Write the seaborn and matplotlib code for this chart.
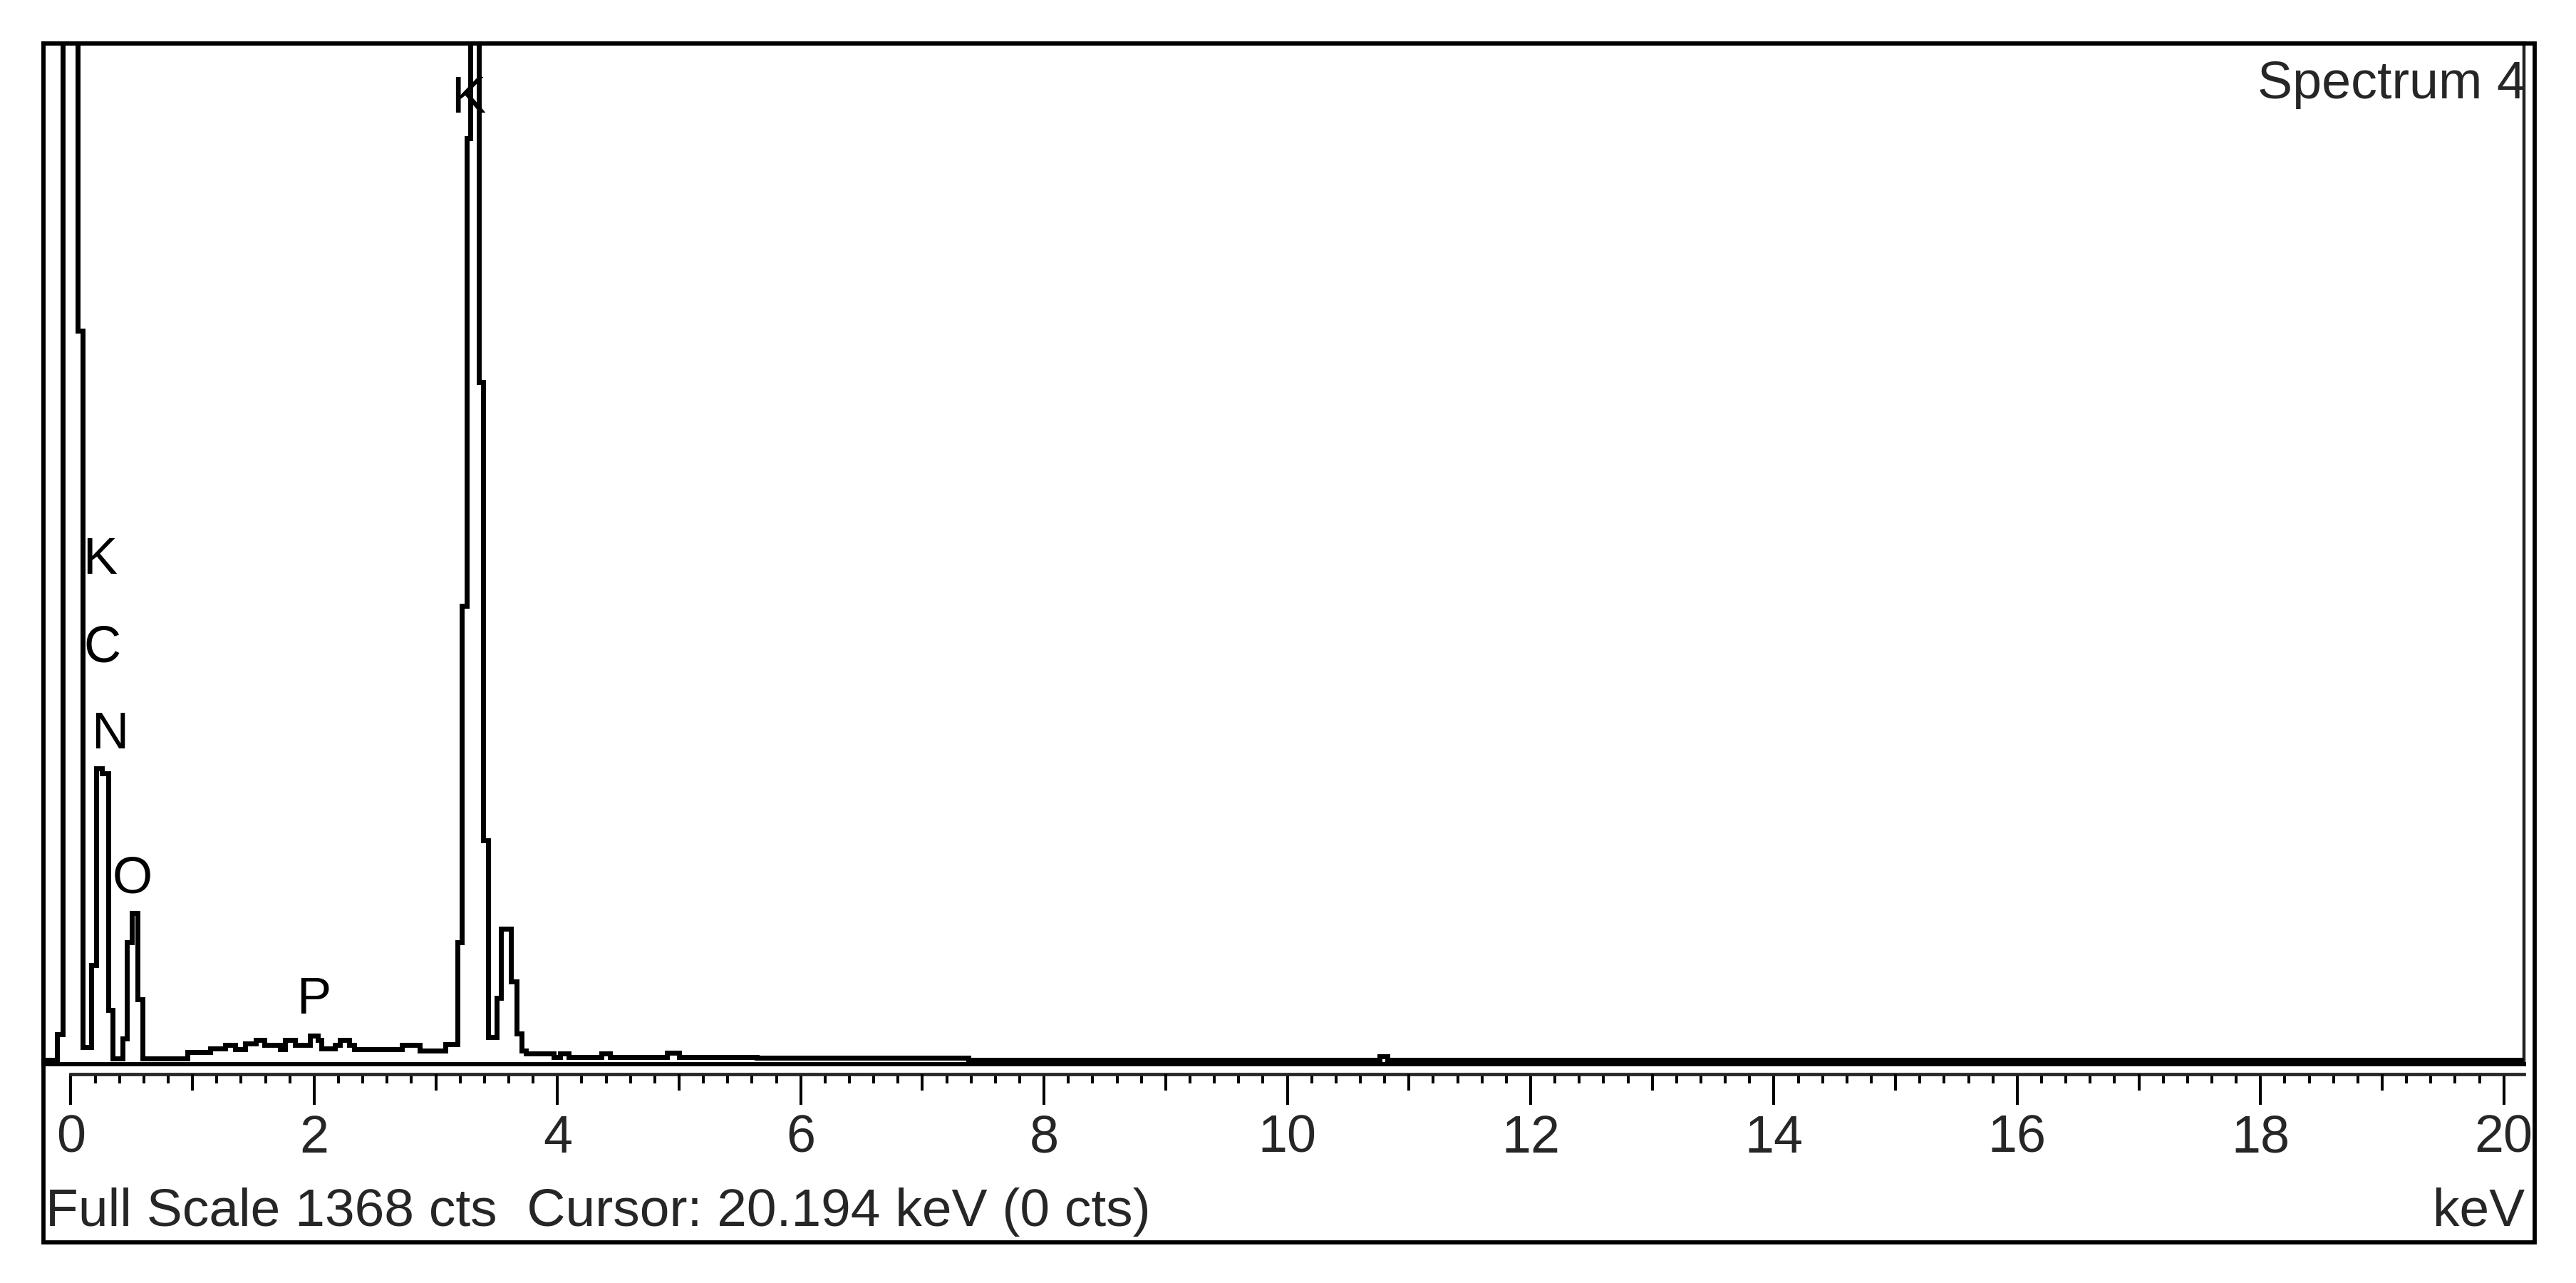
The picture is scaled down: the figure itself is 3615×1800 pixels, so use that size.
import numpy as np
import pandas as pd
import seaborn as sns
import matplotlib
matplotlib.use('Agg')
from matplotlib import pyplot as plt
from matplotlib.patches import Rectangle
from matplotlib.ticker import FixedLocator

# EDS spectrum, read off the screenshot as a step trace:
# each count value holds from its energy edge to the next one.
energy_kev = [-0.23, -0.114, -0.067, 0.056, 0.097, 0.167, 0.208, 0.255, 0.308,
              0.343, 0.425, 0.460, 0.500, 0.548, 0.589, 0.96, 1.145, 1.27,
              1.35, 1.43, 1.52, 1.59, 1.72, 1.76, 1.84, 1.965, 2.03, 2.06,
              2.17, 2.21, 2.29, 2.33, 2.72, 2.87, 3.08, 3.176, 3.215, 3.254,
              3.285, 3.352, 3.391, 3.430, 3.498, 3.537, 3.616, 3.664, 3.704,
              3.742, 3.97, 4.02, 4.09, 4.36, 4.43, 4.90, 5.00, 5.64, 7.38,
              10.76, 10.82, 20.2]
counts = [0, 34, 2000, 981, 17, 127, 392, 385, 67,
          2, 29, 158, 197, 81, 2, 10, 15, 20,
          14, 22, 27, 20, 14, 27, 20, 32, 27, 15,
          20, 27, 20, 14, 20, 12, 21, 158, 611, 1240,
          2000, 912, 295, 30, 83, 176, 105, 35, 12,
          8, 4, 8, 4, 8, 4, 9, 4, 3, 0,
          5, 0, 0]

peak_labels = ['K', 'K', 'C', 'N', 'O', 'P']
label_kev = [3.266, 0.237, 0.255, 0.319, 0.507, 1.995]
label_cts = [1275, 654, 536, 419, 225, 62]

full_scale = 1368
major_ticks = list(range(0, 21, 2))
odd_ticks = list(range(1, 20, 2))
minor_ticks = [round(0.2 * i, 1) for i in range(1, 101)]
spectrum_name = 'Spectrum 4'
status_text = 'Full Scale 1368 cts  Cursor: 20.194 keV (0 cts)'
unit_text = 'keV'

W, H = 3616, 1800


def fx(px):
  return px / W


def fy(py):
  return 1 - py / H


sns.set_style('white')
plt.rcParams['font.family'] = ['Liberation Sans', 'DejaVu Sans']

fig = plt.figure(figsize=(W / 100, H / 100), dpi=100)
fig.patch.set_facecolor('white')

ax_l, ax_r, ax_t, ax_b = 61, 3542, 61, 1493
ax = fig.add_axes([fx(ax_l), fy(ax_b), fx(ax_r - ax_l), (ax_b - ax_t) / H])

df = pd.DataFrame({'keV': energy_kev, 'cts': counts})
sns.lineplot(data=df, x='keV', y='cts', ax=ax, color='black', linewidth=5.0,
             drawstyle='steps-post', estimator=None, sort=False, zorder=4,
             solid_joinstyle='miter', solid_capstyle='butt')

ax.set_xlim(-0.2255, 20.166)
ax.set_ylim(-6, full_scale)
ax.set_xticks([])
ax.set_yticks([])
ax.set(xlabel='', ylabel='')
for side in ('left', 'right', 'top', 'bottom'):
  ax.spines[side].set_visible(True)
  ax.spines[side].set_color('black')
  ax.spines[side].set_linewidth(4.2)
ax.spines['right'].set_color('#222222')
ax.spines['right'].set_linewidth(3.2)

for lab, xk, yc in zip(peak_labels, label_kev, label_cts):
  ax.text(xk, yc, lab, ha='center', va='baseline', fontsize=52,
          color='black', zorder=2)

# energy ruler just below the plot area
ruler_loc = -(1507 - ax_b) / (ax_b - ax_t)
sec = ax.secondary_xaxis(ruler_loc)
sec.set_xticks(major_ticks)
sec.set_xticklabels([str(t) for t in major_ticks])
sec.xaxis.set_minor_locator(FixedLocator(minor_ticks))
sec.tick_params(which='major', length=31, width=2.9, direction='out',
                labelsize=53, pad=9, color='black')
sec.tick_params(which='minor', length=9.4, width=2.9, direction='out',
                color='black')
sec.spines['bottom'].set_linewidth(3.4)
sec.spines['bottom'].set_bounds(0, 20.166)

sec2 = ax.secondary_xaxis(ruler_loc)
sec2.set_xticks(odd_ticks)
sec2.tick_params(which='major', length=16.6, width=2.9, direction='out',
                 labelbottom=False, color='black')
sec2.spines['bottom'].set_visible(False)

fig.text(fx(3545), fy(138), spectrum_name, ha='right', va='baseline',
         fontsize=53)
fig.text(fx(64), fy(1720), status_text, ha='left', va='baseline',
         fontsize=54)
fig.text(fx(3543), fy(1720), unit_text, ha='right', va='baseline',
         fontsize=54)

frame = Rectangle((fx(61), fy(1743)), fx(3557 - 61), (1743 - 61) / H,
                  transform=fig.transFigure, fill=False, edgecolor='black',
                  linewidth=4.2, zorder=10)
fig.add_artist(frame)

fig.savefig('out.png', dpi=100, facecolor='white')
